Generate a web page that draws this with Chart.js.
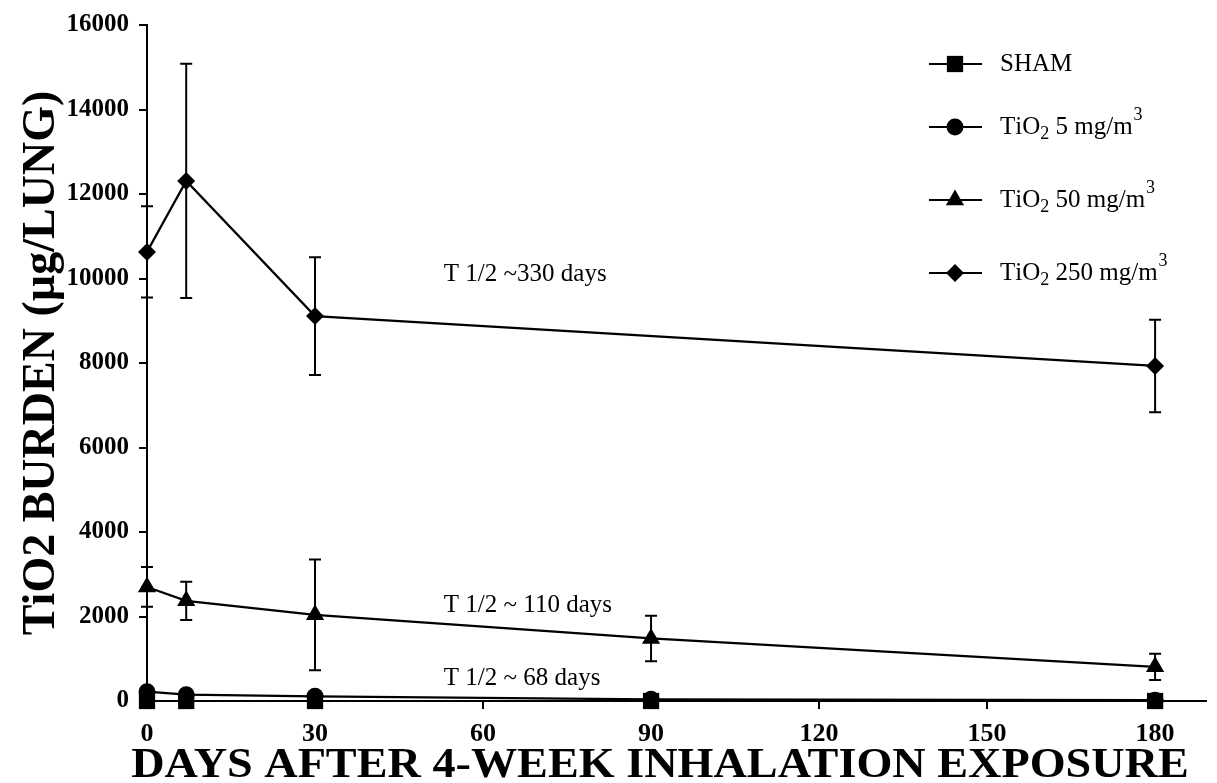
<!DOCTYPE html>
<html lang="en">
<head>
  <meta charset="UTF-8">
  <title>TiO2 lung burden</title>
  <style>
    html, body { margin: 0; padding: 0; background: #fff; }
    #wrap { width: 1217px; height: 783px; }
  </style>
</head>
<body>
  <div id="wrap"><canvas id="myChart"></canvas></div>
  <script src="https://cdn.jsdelivr.net/npm/chart.js"></script>
  <script>
    // values
    const days = [0, 7, 30, 90, 180]
    const days250 = [0, 7, 30, 180]
    const sham = [0, 0, 0, 0, 0]
    const tio2_5 = [220, 150, 110, 40, 20]
    const tio2_50 = [2700, 2370, 2040, 1480, 810]
    const tio2_50Err = [470, 455, 1310, 540, 310]
    const tio2_250 = [10630, 12310, 9110, 7930]
    const tio2_250Err = [1080, 2770, 1395, 1095]

    const seriesLabels = ['SHAM', 'TiO₂ 5 mg/m³', 'TiO₂ 50 mg/m³', 'TiO₂ 250 mg/m³']
    const xTicks = [0, 30, 60, 90, 120, 150, 180]
    const yTicks = [0, 2000, 4000, 6000, 8000, 10000, 12000, 14000, 16000]
    const xTitle = 'DAYS AFTER 4-WEEK INHALATION EXPOSURE'
    const yTitle = 'TiO2 BURDEN (µg/LUNG)'

    const notes = ['T 1/2 ~330 days', 'T 1/2 ~ 110 days', 'T 1/2 ~ 68 days']
    const noteX = [53, 53, 53]
    const noteY = [10100, 2270, 545]

    const SERIF = '"Liberation Serif", "Times New Roman", serif'

    const pts = (xs, ys) => xs.map((x, i) => ({ x: x, y: ys[i] }))

    function shape(ctx, style, x, y, r) {
      ctx.beginPath()
      if (style === 'rect') {
        const s = r * Math.SQRT1_2
        ctx.rect(x - s, y - s, 2 * s, 2 * s)
      } else if (style === 'circle') {
        ctx.arc(x, y, r, 0, Math.PI * 2)
      } else if (style === 'triangle') {
        ctx.moveTo(x, y - r)
        ctx.lineTo(x + r * 0.866, y + r * 0.5)
        ctx.lineTo(x - r * 0.866, y + r * 0.5)
        ctx.closePath()
      } else {
        ctx.moveTo(x, y - r)
        ctx.lineTo(x + r, y)
        ctx.lineTo(x, y + r)
        ctx.lineTo(x - r, y)
        ctx.closePath()
      }
      ctx.fill()
    }

    // text with TiO₂ subscript and m³ superscript
    function richText(ctx, str, x, y, size) {
      let cx = x
      for (const ch of str) {
        if (ch === '₂') {
          ctx.font = `${size * 0.72}px ${SERIF}`
          ctx.fillText('2', cx, y + size * 0.28)
          cx += ctx.measureText('2').width
        } else if (ch === '³') {
          ctx.font = `${size * 0.72}px ${SERIF}`
          ctx.fillText('3', cx + 1, y - size * 0.45)
          cx += ctx.measureText('3').width
        } else {
          ctx.font = `${size}px ${SERIF}`
          ctx.fillText(ch, cx, y)
          cx += ctx.measureText(ch).width
        }
      }
    }

    const errorBars = {
      id: 'errorBars',
      afterDatasetsDraw(chart) {
        const ctx = chart.ctx
        const xs = chart.scales.x, ys = chart.scales.y
        ctx.save()
        ctx.strokeStyle = '#000'
        ctx.lineWidth = 2
        chart.data.datasets.forEach(ds => {
          if (!ds.err) return
          ds.data.forEach((p, i) => {
            const px = xs.getPixelForValue(p.x)
            const top = ys.getPixelForValue(p.y + ds.err[i])
            const bot = ys.getPixelForValue(p.y - ds.err[i])
            ctx.beginPath()
            ctx.moveTo(px, top); ctx.lineTo(px, bot)
            ctx.moveTo(px - 6, top); ctx.lineTo(px + 6, top)
            ctx.moveTo(px - 6, bot); ctx.lineTo(px + 6, bot)
            ctx.stroke()
          })
        })
        ctx.restore()
      }
    }

    const extras = {
      id: 'extras',
      afterDraw(chart) {
        const ctx = chart.ctx
        const xs = chart.scales.x, ys = chart.scales.y
        ctx.save()
        ctx.fillStyle = '#000'
        ctx.textBaseline = 'middle'
        ctx.textAlign = 'left'
        ctx.font = `25px ${SERIF}`
        notes.forEach((t, i) => {
          ctx.fillText(t, xs.getPixelForValue(noteX[i]), ys.getPixelForValue(noteY[i]))
        })

        // x axis title: a bit wide in the original, and left of the plot centre
        ctx.save()
        ctx.translate(660, 777)
        ctx.scale(1.1, 1)
        ctx.textAlign = 'center'
        ctx.textBaseline = 'alphabetic'
        ctx.font = `bold 42px ${SERIF}`
        ctx.fillText(xTitle, 0, 0)
        ctx.restore()

        // legend
        const rowY = [64, 127, 200, 273]
        chart.data.datasets.forEach((ds, i) => {
          const y = rowY[i]
          ctx.strokeStyle = '#000'
          ctx.lineWidth = 2
          ctx.beginPath()
          ctx.moveTo(929, y); ctx.lineTo(982, y)
          ctx.stroke()
          shape(ctx, ds.pointStyle, 955, y, ds.pointRadius)
          richText(ctx, seriesLabels[i], 1000, y, 25)
        })
        ctx.restore()
      }
    }

    const ctx = document.getElementById('myChart')

    new Chart(ctx, {
      type: 'line',
      data: {
        datasets: [
          { label: seriesLabels[0], data: pts(days, sham), pointStyle: 'rect', pointRadius: 11.5 },
          { label: seriesLabels[1], data: pts(days, tio2_5), pointStyle: 'circle', pointRadius: 8.5 },
          { label: seriesLabels[2], data: pts(days, tio2_50), err: tio2_50Err, pointStyle: 'triangle', pointRadius: 10.5 },
          { label: seriesLabels[3], data: pts(days250, tio2_250), err: tio2_250Err, pointStyle: 'rectRot', pointRadius: 9 }
        ].map(d => Object.assign({
          borderColor: '#000',
          backgroundColor: '#000',
          pointBackgroundColor: '#000',
          pointBorderWidth: 0,
          borderWidth: 2.2,
          tension: 0,
          clip: false
        }, d))
      },
      options: {
        responsive: true,
        maintainAspectRatio: false,
        animation: false,
        layout: { padding: { top: 25, right: 0, left: 0, bottom: 0 } },
        plugins: {
          legend: { display: false },
          tooltip: { enabled: false }
        },
        scales: {
          x: {
            type: 'linear',
            min: 0,
            max: 189,
            afterBuildTicks: s => { s.ticks = xTicks.map(v => ({ value: v })) },
            afterFit: s => { s.height = 82 },
            grid: { drawOnChartArea: false, drawTicks: true, tickLength: 8, color: '#000', lineWidth: 2 },
            border: { color: '#000', width: 2 },
            ticks: { color: '#000', padding: 10, font: { family: SERIF, size: 26, weight: 'bold' } },
            title: { display: false }
          },
          y: {
            min: 0,
            max: 16000,
            afterBuildTicks: s => { s.ticks = yTicks.map(v => ({ value: v })) },
            afterFit: s => { s.width = 147 },
            grid: { drawOnChartArea: false, drawTicks: true, tickLength: 8, color: '#000', lineWidth: 2 },
            border: { color: '#000', width: 2 },
            ticks: { color: '#000', padding: 10, callback: v => String(v), font: { family: SERIF, size: 25, weight: 'bold' } },
            title: {
              display: true,
              text: yTitle,
              color: '#000',
              padding: { top: 19, bottom: 0 },
              font: { family: SERIF, size: 46, weight: 'bold', lineHeight: 1 }
            }
          }
        }
      },
      plugins: [errorBars, extras]
    })
  </script>
</body>
</html>
